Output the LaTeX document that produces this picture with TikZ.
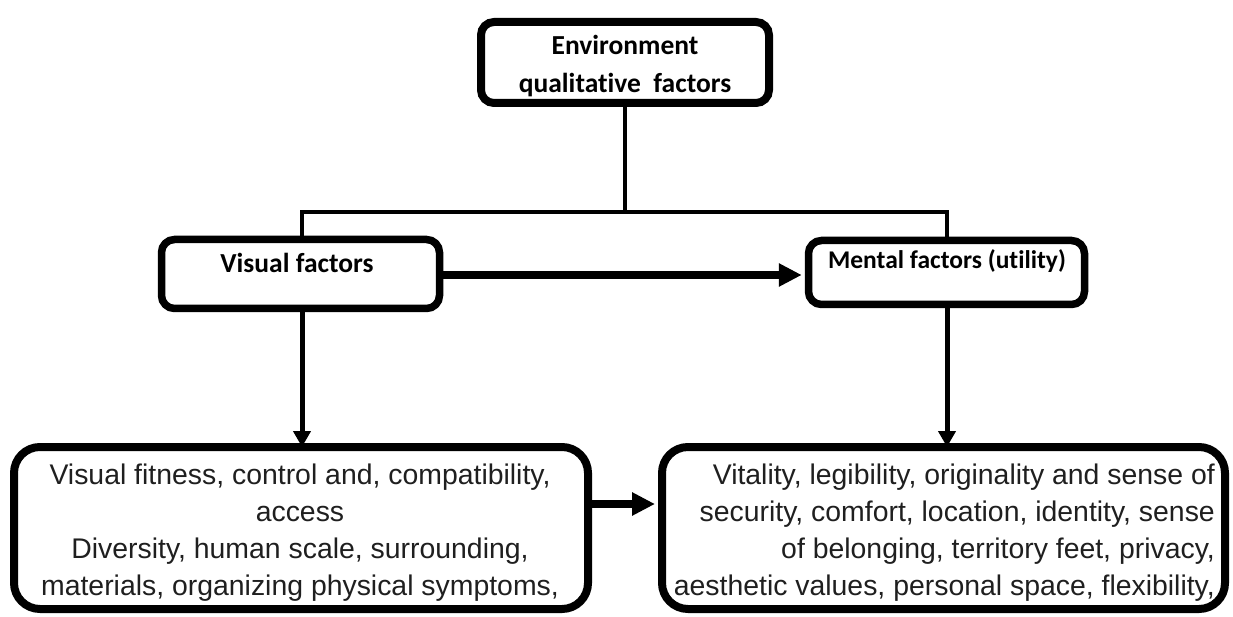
\documentclass[tikz,border=0pt]{standalone}
\usepackage{fontspec}
\setmainfont{Liberation Sans}
\newfontfamily\calib[Ligatures=CommonOff]{Carlito}
\usetikzlibrary{arrows.meta}
\begin{document}
\begin{tikzpicture}[x=1pt,y=-1pt,
  boxs/.style={draw=black, line width=7.5pt, rounded corners=13pt, fill=white, inner sep=0pt},
  boxb/.style={draw=black, line width=8pt, rounded corners=26pt, fill=white, inner sep=0pt},
  hd/.style={font=\calib\bfseries\fontsize{27.5}{38}\selectfont, inner sep=0pt, align=center},
  body/.style={font=\fontsize{28.4}{37}\selectfont, text=black!88, inner sep=0pt},
  tree/.style={draw=black, line width=4.5pt},
  varrow/.style={draw=black, line width=5pt, -{Triangle[length=16pt,width=17pt]}},
  harrow/.style={draw=black, line width=8pt, -{Triangle[length=23pt,width=22pt]}}
]
\useasboundingbox (0,0) rectangle (1233,617);
\fill[white] (0,0) rectangle (1233,617);

% boxes
\node[boxs, line width=8pt, minimum width=288pt, minimum height=81pt] (top) at (625,62.5) {};
\node[boxs, minimum width=278pt, minimum height=69pt] (vis) at (300.5,274) {};
\node[boxs, minimum width=276pt, minimum height=64pt] (men) at (946.5,272.5) {};
\node[boxb, minimum width=574pt, minimum height=162pt] (bl) at (301,528) {};
\node[boxb, minimum width=563pt, minimum height=162pt] (br) at (943.5,528) {};

% texts
\node[hd, anchor=base] (topt) at (625,93) {Environment\\qualitative\ \ factors};
\node[hd, anchor=base] (vist) at (297,273) {Visual factors};
\node[hd, anchor=base, font=\calib\bfseries\fontsize{25.5}{30}\selectfont] (ment) at (947,269) {Mental factors (utility)};
\node[body, anchor=base, align=center] (blt) at (300,595)
  {Visual fitness, control and, compatibility,\\access\\Diversity, human scale, surrounding,\\materials, organizing physical symptoms,};
\node[body, anchor=base east, align=right] (brt) at (1215,595)
  {Vitality, legibility, originality and sense of\\security, comfort, location, identity, sense\\of belonging, territory feet, privacy,\\aesthetic values, personal space, flexibility,};

% tree connectors
\coordinate (j) at (625,212);
\coordinate (jl) at (302,212);
\coordinate (jr) at (947,212);
\draw[tree] (top.south) -- (j);
\draw[tree, line cap=rect] (jl) -- (jr);
\draw[tree] (jl) -- (jl |- vis.north);
\draw[tree] (jr) -- (jr |- men.north);

% arrows
\draw[harrow] (vis.east |- 0,275) -- ([xshift=-3pt]men.west |- 0,275);
\draw[varrow] (vis.south -| jl) -- ([yshift=-4pt]bl.north -| jl);
\draw[varrow] (men.south -| jr) -- ([yshift=-4pt]br.north -| jr);
\draw[harrow] (bl.east |- 0,504) -- ([xshift=-3pt]br.west |- 0,504);
\end{tikzpicture}
\end{document}
